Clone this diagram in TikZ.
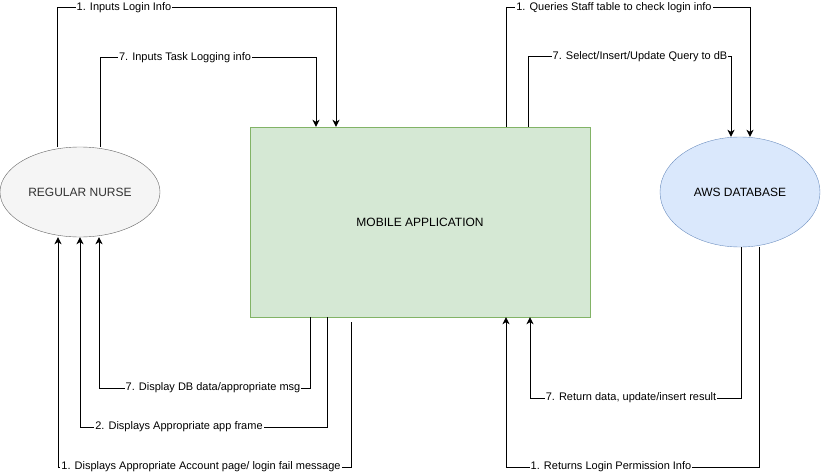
\documentclass[tikz,border=0pt]{standalone}
\usepackage{fontspec}
\setmainfont{Liberation Sans}
\usetikzlibrary{arrows.meta,shapes.geometric,calc}
\definecolor{nursefill}{HTML}{F5F5F5}
\definecolor{nurseline}{HTML}{666666}
\definecolor{nursetext}{HTML}{333333}
\definecolor{appfill}{HTML}{D5E8D4}
\definecolor{appline}{HTML}{82B366}
\definecolor{dbfill}{HTML}{DAE8FC}
\definecolor{dbline}{HTML}{6C8EBF}
\begin{document}
\begin{tikzpicture}[x=1pt,y=-1pt,
    actor/.style={ellipse,draw=nurseline,fill=nursefill,text=nursetext,inner sep=0pt,
      minimum width=160pt,minimum height=90pt,font=\fontsize{12}{14}\selectfont},
    proc/.style={rectangle,draw=appline,fill=appfill,inner sep=0pt,
      minimum width=340pt,minimum height=190pt,font=\fontsize{12}{14}\selectfont},
    store/.style={ellipse,draw=dbline,fill=dbfill,inner sep=0pt,
      minimum width=160pt,minimum height=110pt,font=\fontsize{12}{14}\selectfont},
    flow/.style={line width=1pt,-{Stealth[length=7pt,width=7pt,inset=2pt]}},
    lbl/.style={fill=white,inner sep=1pt,font=\fontsize{11}{13}\selectfont}]
  \useasboundingbox (0,0) rectangle (821,476);
  \node[actor] (nurse) at (80,192) {REGULAR NURSE};
  \node[proc] (app) at (420,222) {MOBILE APPLICATION};
  \node[store] (db) at (740,192) {AWS DATABASE};
  % nurse -> app
  \draw[flow] (nurse.north -| 57,0) |- (336,8) -- (app.north -| 336,0);
  \draw[flow] (nurse.north -| 100,0) |- (316,58) -- (app.north -| 316,0);
  % app -> db
  \draw[flow] (app.north -| 506,0) |- (750,8) -- (db.north -| 750,0);
  \draw[flow] (app.north -| 528,0) |- (731,57) -- (db.north -| 731,0);
  % db -> app
  \draw[flow] (db.south -| 741,0) |- (530,398) -- (app.south -| 530,0);
  \draw[flow] (db.south -| 759,0) |- (506,467) -- (app.south -| 506,0);
  % app -> nurse
  \draw[flow] (app.south -| 310,0) |- (99,388) -- (nurse.south -| 99,0);
  \draw[flow] (app.south -| 327,0) |- (80,427) -- (nurse.south);
  \draw[flow] ($(app.south -| 351,0)+(0,5)$) |- (58,467) -- (nurse.south -| 58,0);
  % labels
  \node[lbl] (l1) at (124,8) {1. Inputs Login Info};
  \node[lbl] (l2) at (185,58) {7. Inputs Task Logging info};
  \node[lbl] (l3) at (614,8) {1. Queries Staff table to check login info};
  \node[lbl] (l4) at (640,57) {7. Select/Insert/Update Query to dB};
  \node[lbl] (l5) at (631,398) {7. Return data, update/insert result};
  \node[lbl] (l6) at (611,467) {1. Returns Login Permission Info};
  \node[lbl] (l7) at (213,388) {7. Display DB data/appropriate msg};
  \node[lbl] (l8) at (179,427) {2. Displays Appropriate app frame};
  \node[lbl] (l9) at (201,467) {1. Displays Appropriate Account page/ login fail message};
\end{tikzpicture}
\end{document}
